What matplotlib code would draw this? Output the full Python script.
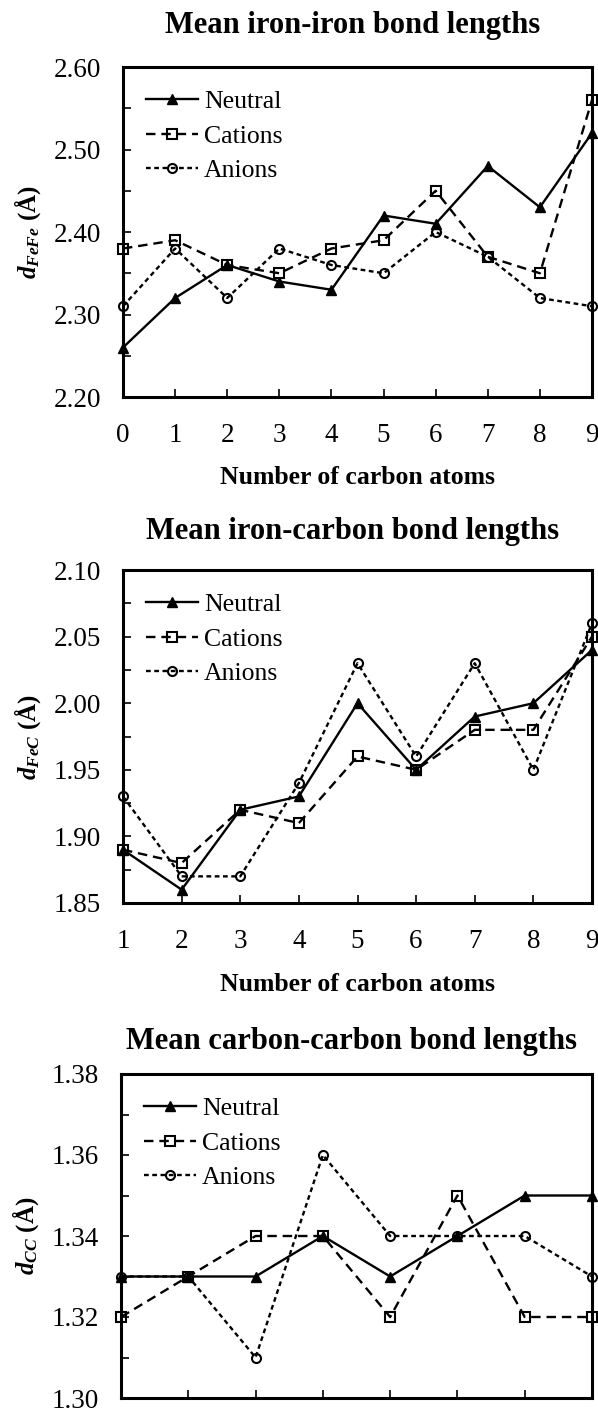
import numpy as np
import matplotlib
matplotlib.use("Agg")
import matplotlib.pyplot as plt
from matplotlib.ticker import MultipleLocator, FormatStrFormatter

plt.rcParams["font.family"] = ["Liberation Serif", "DejaVu Serif"]
plt.rcParams["mathtext.fontset"] = "custom"
plt.rcParams["mathtext.it"] = "Liberation Serif:italic:bold"
plt.rcParams["mathtext.rm"] = "Liberation Serif:bold"
plt.rcParams["mathtext.bf"] = "Liberation Serif:bold"

# ============ Data ============

series_names = ["Neutral", "Cations", "Anions"]

# Fe-Fe
fefe_x = [0, 1, 2, 3, 4, 5, 6, 7, 8, 9]
fefe_neutral = [2.26, 2.32, 2.36, 2.34, 2.33, 2.42, 2.41, 2.48, 2.43, 2.52]
fefe_cations = [2.38, 2.39, 2.36, 2.35, 2.38, 2.39, 2.45, 2.37, 2.35, 2.56]
fefe_anions = [2.31, 2.38, 2.32, 2.38, 2.36, 2.35, 2.40, 2.37, 2.32, 2.31]

# Fe-C
fec_x = [1, 2, 3, 4, 5, 6, 7, 8, 9]
fec_neutral = [1.89, 1.86, 1.92, 1.93, 2.00, 1.95, 1.99, 2.00, 2.04]
fec_cations = [1.89, 1.88, 1.92, 1.91, 1.96, 1.95, 1.98, 1.98, 2.05]
fec_anions = [1.93, 1.87, 1.87, 1.94, 2.03, 1.96, 2.03, 1.95, 2.06]

# C-C
cc_x = [2, 3, 4, 5, 6, 7, 8, 9]
cc_neutral = [1.33, 1.33, 1.33, 1.34, 1.33, 1.34, 1.35, 1.35]
cc_cations = [1.32, 1.33, 1.34, 1.34, 1.32, 1.35, 1.32, 1.32]
cc_anions = [1.33, 1.33, 1.31, 1.36, 1.34, 1.34, 1.34, 1.33]

# ============ Layout (pixels) ============

W, H = 598, 1412
fig = plt.figure(figsize=(W / 100, H / 100), dpi=100)


def px_axes(left, right, top, bottom):
    return fig.add_axes([left / W, 1 - bottom / H, (right - left) / W, (bottom - top) / H])


styles = [
    dict(color="black", lw=1.7, ls="-", marker="^", ms=6.5, mfc="black", mec="black"),
    dict(color="black", lw=1.7, dashes=(4, 2.5), marker="s", ms=6.5, mfc="none", mec="black", mew=1.5),
    dict(color="black", lw=1.7, dashes=(2, 1.5), marker="o", ms=6.5, mfc="none", mec="black", mew=1.5),
]


def draw_panel(box, title, title_y, x, ys, ylabel, ylim, major, minor, show_xlabel):
    ax = px_axes(*box)
    for y, name, st in zip(ys, series_names, styles):
        ax.plot(x, y, label=name, clip_on=False, **st)
    ax.set_xlim(x[0], x[-1])
    ax.set_ylim(*ylim)
    ax.xaxis.set_major_locator(MultipleLocator(1))
    ax.yaxis.set_major_locator(MultipleLocator(major))
    ax.yaxis.set_minor_locator(MultipleLocator(minor))
    ax.yaxis.set_major_formatter(FormatStrFormatter("%.2f"))
    ax.tick_params(axis="both", which="both", direction="in", length=6, width=1.2,
                   labelsize=19.5, top=False, right=False)
    ax.tick_params(axis="y", which="major", pad=16)
    ax.tick_params(axis="x", which="major", pad=19, labelbottom=show_xlabel)
    for sp in ax.spines.values():
        sp.set_linewidth(2.2)
    ax.set_ylabel(ylabel, fontsize=18, fontweight="bold")
    ax.yaxis.set_label_coords(-0.17, 0.5)
    if show_xlabel:
        ax.text(0.5, -0.245, "Number of carbon atoms", transform=ax.transAxes,
                ha="center", va="center", fontsize=18.5, fontweight="bold")
    cx = (box[0] + box[1]) / 2 - 5
    fig.text(cx / W, 1 - title_y / H, title, ha="center", va="center",
             fontsize=22, fontweight="bold")
    ax.legend(loc="upper left", bbox_to_anchor=(0.0, 1.0), frameon=False, fontsize=18.5,
              handlelength=2.0, handletextpad=0.25, labelspacing=0.45,
              borderaxespad=0.55, borderpad=0.35)
    return ax


draw_panel((123, 592, 67, 397), "Mean iron-iron bond lengths", 26,
           fefe_x, [fefe_neutral, fefe_cations, fefe_anions],
           r"$d_{FeFe}$ (Å)", (2.20, 2.60), 0.10, 0.05, True)

draw_panel((123, 592, 570, 903), "Mean iron-carbon bond lengths", 532,
           fec_x, [fec_neutral, fec_cations, fec_anions],
           r"$d_{FeC}$ (Å)", (1.85, 2.10), 0.05, 0.025, True)

draw_panel((121, 592, 1074, 1398), "Mean carbon-carbon bond lengths", 1042,
           cc_x, [cc_neutral, cc_cations, cc_anions],
           r"$d_{CC}$ (Å)", (1.30, 1.38), 0.02, 0.01, False)

fig.savefig("out.png", dpi=100)
